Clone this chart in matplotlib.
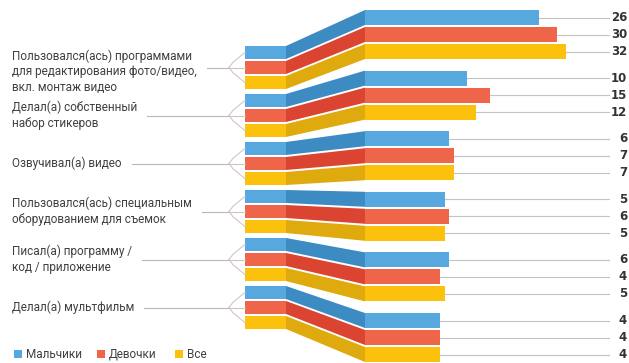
import matplotlib
matplotlib.use("Agg")
import matplotlib.pyplot as plt
from matplotlib.patches import Polygon, Rectangle

categories = [
    "Пользовался(ась) программами\nдля редактирования фото/видео,\nвкл. монтаж видео",
    "Делал(а) собственный\nнабор стикеров",
    "Озвучивал(а) видео",
    "Пользовался(ась) специальным\nоборудованием для съемок",
    "Писал(а) программу /\nкод / приложение",
    "Делал(а) мультфильм",
]
series_names = ["Мальчики", "Девочки", "Все"]
boys = [26, 10, 6, 5, 6, 4]
girls = [30, 15, 7, 6, 4, 4]
everyone = [32, 12, 7, 5, 5, 4]
series = [boys, girls, everyone]

light = ["#58a8e0", "#ee6549", "#fcc10c"]
dark = ["#3d8bc3", "#db4430", "#deaa0e"]
text_col = "#404040"

W, H = 629, 363
fig = plt.figure(figsize=(W / 100, H / 100), dpi=100)
ax = fig.add_axes([0, 0, 1, 1])
ax.set_xlim(0, W)
ax.set_ylim(H, 0)
ax.axis("off")

# value axis: px = X0 + K * value
X0, K = 422.0, 4.5
def xv(px):
    return (px - X0) / K

axb = fig.add_axes([0, 0, 1, 1])
axb.set_xlim(xv(0), xv(W))
axb.set_ylim(H, 0)
axb.axis("off")
axb.patch.set_alpha(0)

L0, LG, LP, LH = 46, 48, 15, 13       # left stubs: top, group pitch, pitch, height
R0, RG, RP, RH = 10, 60.6, 17, 15     # right bars
SX0, SX1, BX0 = 245, 286, 365
bar_left = xv(BX0)

fig.canvas.draw()
renderer = fig.canvas.get_renderer()

for g, cat in enumerate(categories):
    stub_centers = []
    for s in range(3):
        st = L0 + g * LG + s * LP
        sb = st + LH
        bt = R0 + g * RG + s * RP
        bb = bt + RH
        ax.add_patch(Rectangle((SX0, st), SX1 - SX0, LH, facecolor=light[s], edgecolor="none"))
        ax.add_patch(Polygon([(SX1, st), (BX0, bt), (BX0, bb), (SX1, sb)], closed=True,
                             facecolor=dark[s], edgecolor="none"))
        stub_centers.append((st + sb) / 2)
        v = series[s][g]
        yc = (bt + bb) / 2
        axb.barh(yc, v - bar_left, left=bar_left, height=RH, color=light[s], edgecolor="none")
        axb.plot([v, xv(609)], [yc, yc], color="#c4c4c4", lw=0.8, zorder=0)
        axb.text(xv(627), yc, str(v), ha="right", va="center", fontsize=8.5,
                 fontweight="bold", color="#333333")
    cy = (stub_centers[0] + stub_centers[-1]) / 2
    t = ax.text(12, cy + (4 if g == 0 else 0), cat, ha="left", va="center", fontsize=8.5,
                color=text_col, linespacing=1.25, family="Roboto")
    bb_ = t.get_window_extent(renderer)
    x_end = bb_.x1 + 10
    ax.plot([x_end, 229], [cy, cy], color="#b8b8b8", lw=0.8)
    for sc in stub_centers:
        ax.plot([229, 233, SX0], [cy, cy + (sc - cy) * 0.35, sc], color="#d0c4cc", lw=0.8)

# legend
lx = [14, 97, 175]
for s, name in enumerate(series_names):
    ax.add_patch(Rectangle((lx[s], 350), 8, 8, facecolor=light[s], edgecolor="none"))
    ax.text(lx[s] + 12, 354.5, name, ha="left", va="center", fontsize=8.5,
            color=text_col, family="Roboto")

fig.savefig("out.png", dpi=100)
